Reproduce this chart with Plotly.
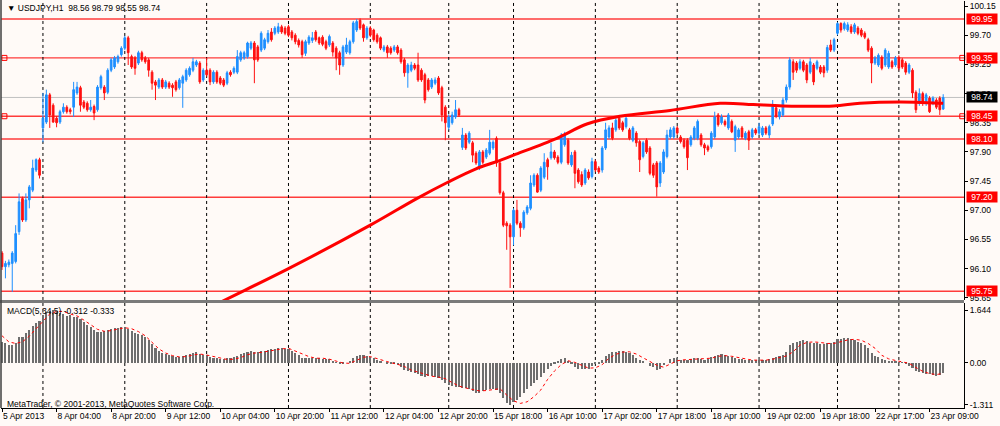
import plotly.graph_objects as go

# USDJPY H1 candles, 5 Apr 2013 .. 23 Apr 2013 (bar index 0..276)
open_ = [
    96.34, 96.13, 96.16, 96.18, 96.21, 96.67, 97.18, 96.85, 97.16, 97.31,
    97.62, 97.78, 98.27, 98.36, 98.78, 98.62, 98.42, 98.36, 98.52, 98.59,
    98.55, 98.59, 98.81, 98.89, 98.67, 98.65, 98.55, 98.60, 98.55, 98.89,
    98.90, 98.82, 99.16, 99.21, 99.29, 99.40, 99.50, 99.66, 99.37, 99.35,
    99.27, 99.43, 99.35, 99.32, 99.13, 98.98, 98.90, 99.01, 98.90, 98.96,
    98.93, 98.98, 98.89, 98.96, 99.01, 99.09, 99.16, 99.24, 99.27, 99.01,
    99.16, 99.16, 98.98, 99.13, 99.04, 99.01, 98.96, 99.13, 99.13, 99.13,
    99.32, 99.35, 99.37, 99.50, 99.58, 99.52, 99.47, 99.50, 99.60, 99.75,
    99.73, 99.75, 99.83, 99.81, 99.83, 99.75, 99.70, 99.62, 99.60, 99.42,
    99.58, 99.62, 99.75, 99.66, 99.67, 99.60, 99.55, 99.58, 99.50, 99.43,
    99.24, 99.44, 99.43, 99.60, 99.78, 99.93, 99.86, 99.66, 99.81, 99.78,
    99.70, 99.66, 99.47, 99.52, 99.50, 99.47, 99.52, 99.47, 99.32, 99.12,
    99.16, 99.24, 99.24, 99.16, 99.09, 99.01, 98.90, 98.96, 99.04, 98.89,
    98.59, 98.28, 98.35, 98.44, 98.55, 97.97, 98.16, 98.05, 98.04, 97.88,
    97.67, 97.90, 97.82, 97.88, 97.96, 98.11, 97.73, 97.27, 96.80, 96.77,
    96.59, 97.00, 96.80, 96.73, 96.96, 97.03, 97.39, 97.54, 97.31, 97.51,
    97.78, 97.81, 97.90, 97.82, 97.74, 98.01, 98.08, 97.70, 97.90, 97.62,
    97.55, 97.42, 97.59, 97.52, 97.75, 97.65, 97.62, 97.96, 98.13, 98.27,
    98.24, 98.42, 98.35, 98.29, 98.24, 98.08, 98.19, 98.06, 97.83, 98.08,
    97.96, 97.70, 97.73, 97.42, 97.59, 97.83, 98.13, 98.13, 98.27, 98.13,
    98.08, 98.08, 98.01, 98.11, 98.11, 98.16, 98.01, 97.98, 97.98, 98.13,
    98.47, 98.35, 98.37, 98.27, 98.37, 98.08, 98.13, 98.27, 98.11, 98.21,
    98.13, 98.24, 98.19, 98.16, 98.27, 98.16, 98.33, 98.58, 98.44, 98.47,
    98.70, 98.90, 99.29, 99.27, 99.19, 99.29, 99.24, 99.13, 99.24, 99.19,
    99.21, 99.21, 99.16, 99.55, 99.47, 99.73, 99.88, 99.80, 99.78, 99.83,
    99.75, 99.81, 99.78, 99.73, 99.63, 99.50, 99.27, 99.24, 99.36, 99.24,
    99.21, 99.29, 99.24, 99.36, 99.32, 99.27, 99.13, 99.16, 98.82, 98.65,
    98.80, 98.65, 98.73, 98.65, 98.70, 98.73, 98.56,
]
high = [
    96.37, 96.22, 96.24, 96.37, 96.77, 97.26, 97.21, 97.26, 97.39, 97.78,
    97.80, 97.81, 98.81, 98.86, 98.81, 98.65, 98.45, 98.55, 98.65, 98.62,
    98.58, 98.98, 98.98, 98.92, 98.70, 98.68, 98.70, 98.63, 98.93, 99.09,
    98.93, 99.19, 99.35, 99.38, 99.40, 99.53, 99.69, 99.69, 99.40, 99.38,
    99.46, 99.46, 99.38, 99.35, 99.16, 99.01, 99.04, 99.04, 99.01, 98.99,
    98.96, 99.01, 99.04, 99.09, 99.19, 99.22, 99.35, 99.32, 99.30, 99.19,
    99.35, 99.19, 99.16, 99.16, 99.07, 99.04, 99.15, 99.16, 99.22, 99.47,
    99.46, 99.46, 99.60, 99.61, 99.61, 99.55, 99.76, 99.66, 99.78, 99.81,
    99.84, 99.89, 99.86, 99.84, 99.86, 99.78, 99.73, 99.65, 99.63, 99.63,
    99.70, 99.75, 99.78, 99.68, 99.70, 99.63, 99.71, 99.61, 99.53, 99.46,
    99.55, 99.66, 99.63, 99.92, 99.95, 99.96, 99.88, 99.84, 99.84, 99.80,
    99.73, 99.68, 99.55, 99.55, 99.53, 99.55, 99.55, 99.50, 99.35, 99.27,
    99.29, 99.27, 99.43, 99.19, 99.12, 99.04, 99.04, 99.05, 99.07, 98.92,
    98.62, 98.48, 98.52, 98.70, 98.58, 98.27, 98.19, 98.22, 98.07, 97.91,
    97.93, 97.93, 97.96, 98.24, 98.08, 98.14, 97.76, 97.30, 96.83, 96.80,
    97.03, 97.16, 96.83, 97.00, 97.08, 97.54, 97.57, 97.57, 97.68, 97.88,
    97.81, 98.04, 97.93, 97.85, 98.19, 98.21, 98.11, 97.90, 97.93, 97.65,
    97.60, 97.65, 97.63, 97.81, 97.78, 97.68, 97.99, 98.35, 98.31, 98.35,
    98.42, 98.47, 98.38, 98.45, 98.27, 98.30, 98.22, 98.09, 98.07, 98.11,
    97.99, 97.73, 97.76, 97.76, 97.94, 98.24, 98.28, 98.30, 98.30, 98.16,
    98.11, 98.11, 98.16, 98.30, 98.40, 98.19, 98.04, 98.01, 98.22, 98.52,
    98.50, 98.48, 98.40, 98.50, 98.40, 98.32, 98.27, 98.30, 98.22, 98.24,
    98.27, 98.27, 98.35, 98.30, 98.30, 98.32, 98.70, 98.62, 98.56, 98.74,
    98.94, 99.36, 99.33, 99.30, 99.33, 99.32, 99.27, 99.35, 99.27, 99.32,
    99.24, 99.24, 99.55, 99.63, 99.66, 99.90, 99.90, 99.91, 99.90, 99.87,
    99.89, 99.84, 99.81, 99.76, 99.66, 99.53, 99.38, 99.42, 99.39, 99.50,
    99.46, 99.32, 99.38, 99.39, 99.35, 99.30, 99.27, 99.19, 98.85, 98.88,
    98.83, 98.81, 98.76, 98.76, 98.73, 98.76, 98.79,
]
low = [
    96.08, 95.95, 96.12, 95.74, 96.18, 96.62, 96.82, 96.82, 97.03, 97.28,
    97.59, 97.49, 98.05, 98.33, 98.27, 98.35, 98.28, 98.33, 98.49, 98.49,
    98.48, 98.44, 98.78, 98.52, 98.56, 98.52, 98.52, 98.39, 98.52, 98.86,
    98.70, 98.79, 99.13, 99.18, 99.26, 99.37, 99.47, 99.24, 99.18, 99.09,
    99.24, 99.29, 99.26, 99.06, 98.86, 98.70, 98.87, 98.87, 98.87, 98.87,
    98.75, 98.83, 98.86, 98.58, 98.98, 99.06, 99.13, 99.21, 98.95, 98.98,
    99.06, 98.93, 98.95, 98.95, 98.93, 98.90, 98.93, 99.06, 99.10, 99.10,
    99.29, 99.32, 99.34, 99.47, 98.96, 99.29, 99.44, 99.47, 99.57, 99.60,
    99.70, 99.72, 99.72, 99.70, 99.67, 99.62, 99.56, 99.51, 99.35, 99.38,
    99.55, 99.58, 99.60, 99.55, 99.53, 99.47, 99.52, 99.37, 99.16, 99.09,
    99.21, 99.41, 99.40, 99.57, 99.75, 99.78, 99.60, 99.63, 99.67, 99.60,
    99.57, 99.47, 99.44, 99.35, 99.40, 99.44, 99.40, 99.26, 99.06, 98.89,
    99.13, 99.16, 98.98, 98.98, 98.65, 98.83, 98.87, 98.93, 98.78, 98.37,
    98.08, 98.24, 98.32, 98.41, 98.44, 97.93, 97.93, 98.02, 97.74, 97.70,
    97.62, 97.71, 97.79, 97.85, 97.93, 97.67, 97.24, 96.74, 96.39, 95.80,
    96.46, 96.77, 96.59, 96.70, 96.93, 97.00, 97.36, 97.27, 97.28, 97.48,
    97.47, 97.78, 97.78, 97.71, 97.71, 97.98, 97.70, 97.67, 97.34, 97.41,
    97.36, 97.39, 97.47, 97.49, 97.59, 97.56, 97.58, 97.93, 98.10, 98.08,
    98.21, 98.24, 98.21, 98.26, 98.08, 98.05, 97.98, 97.59, 97.80, 97.87,
    97.54, 97.50, 97.21, 97.36, 97.56, 97.80, 98.10, 98.10, 98.16, 98.03,
    97.95, 97.62, 97.98, 98.08, 98.08, 97.98, 97.85, 97.90, 97.95, 98.10,
    98.29, 98.32, 98.29, 98.24, 98.19, 97.90, 98.10, 98.10, 98.08, 97.93,
    98.10, 98.16, 98.16, 98.13, 98.16, 98.11, 98.30, 98.42, 98.40, 98.44,
    98.66, 98.86, 99.01, 99.12, 99.16, 99.13, 98.96, 99.10, 98.93, 99.16,
    99.10, 99.05, 99.12, 99.44, 99.44, 99.70, 99.74, 99.77, 99.75, 99.72,
    99.72, 99.70, 99.67, 99.64, 99.44, 98.96, 99.24, 99.21, 99.16, 99.21,
    99.18, 99.18, 99.21, 99.16, 99.18, 99.09, 99.10, 98.73, 98.50, 98.61,
    98.61, 98.61, 98.50, 98.62, 98.56, 98.47, 98.55,
]
close = [
    96.13, 96.18, 96.20, 96.34, 96.64, 97.13, 96.85, 97.16, 97.36, 97.65,
    97.78, 97.54, 98.42, 98.78, 98.47, 98.36, 98.35, 98.52, 98.59, 98.52,
    98.52, 98.86, 98.90, 98.62, 98.59, 98.55, 98.59, 98.50, 98.90, 99.06,
    98.81, 99.16, 99.32, 99.35, 99.37, 99.50, 99.66, 99.43, 99.21, 99.19,
    99.43, 99.32, 99.29, 99.16, 98.96, 98.93, 99.01, 98.90, 98.98, 98.90,
    98.89, 98.86, 99.01, 99.06, 99.16, 99.19, 99.29, 99.29, 98.98, 99.16,
    99.09, 98.98, 99.13, 98.98, 98.96, 98.93, 99.12, 99.09, 99.19, 99.37,
    99.43, 99.43, 99.58, 99.58, 99.32, 99.32, 99.73, 99.63, 99.73, 99.63,
    99.81, 99.83, 99.75, 99.73, 99.70, 99.66, 99.60, 99.55, 99.40, 99.60,
    99.67, 99.66, 99.63, 99.58, 99.56, 99.50, 99.68, 99.44, 99.35, 99.24,
    99.52, 99.55, 99.60, 99.89, 99.91, 99.81, 99.66, 99.81, 99.70, 99.63,
    99.60, 99.50, 99.52, 99.43, 99.43, 99.52, 99.43, 99.29, 99.12, 99.24,
    99.24, 99.19, 99.01, 99.01, 98.70, 98.86, 99.01, 99.01, 98.81, 98.47,
    98.35, 98.44, 98.47, 98.55, 98.47, 98.16, 97.96, 98.19, 97.85, 97.73,
    97.90, 97.74, 97.93, 98.05, 98.05, 97.73, 97.27, 96.77, 96.76, 96.59,
    97.00, 96.80, 96.73, 96.97, 97.05, 97.42, 97.54, 97.28, 97.65, 97.74,
    97.67, 97.90, 97.81, 97.74, 98.16, 98.16, 97.73, 97.85, 97.57, 97.44,
    97.39, 97.62, 97.50, 97.75, 97.62, 97.59, 97.96, 98.24, 98.27, 98.11,
    98.39, 98.27, 98.24, 98.42, 98.11, 98.27, 98.04, 97.78, 98.04, 97.90,
    97.57, 97.54, 97.36, 97.73, 97.90, 98.16, 98.24, 98.27, 98.19, 98.06,
    97.98, 97.81, 98.13, 98.27, 98.37, 98.01, 97.96, 97.93, 98.19, 98.44,
    98.32, 98.44, 98.32, 98.47, 98.21, 98.29, 98.24, 98.13, 98.19, 98.08,
    98.24, 98.19, 98.29, 98.27, 98.19, 98.29, 98.60, 98.45, 98.52, 98.70,
    98.90, 99.32, 99.13, 99.16, 99.29, 99.16, 99.01, 99.29, 98.98, 99.29,
    99.13, 99.12, 99.51, 99.47, 99.63, 99.88, 99.78, 99.88, 99.86, 99.75,
    99.86, 99.73, 99.70, 99.67, 99.47, 99.27, 99.35, 99.39, 99.19, 99.47,
    99.42, 99.21, 99.35, 99.19, 99.21, 99.13, 99.24, 98.81, 98.55, 98.80,
    98.65, 98.78, 98.52, 98.73, 98.59, 98.55, 98.74,
]

# red moving average, sampled at bar positions
ma_x = [60, 64.4, 84, 108, 121.6, 131, 139, 145, 150, 162.7, 171.5, 181.2,
        195.9, 210.6, 220.3, 229.1, 243.8, 251.6, 263.3, 271.2, 276]
ma_y = [95.47, 95.59, 96.10, 96.77, 97.18, 97.44, 97.64, 97.75, 97.85, 98.11,
        98.33, 98.45, 98.54, 98.65, 98.63, 98.61, 98.61, 98.65, 98.67, 98.66,
        98.65]

# MACD(5,34,5) histogram, one value per bar
macd = [
    0.65, 0.60, 0.55, 0.55, 0.60, 0.81, 0.81, 0.94, 1.02, 1.14,
    1.25, 1.31, 1.49, 1.59, 1.62, 1.64, 1.62, 1.56, 1.52, 1.46,
    1.49, 1.43, 1.41, 1.35, 1.27, 1.17, 1.10, 1.02, 0.97, 0.97,
    0.99, 1.02, 1.05, 1.07, 1.09, 1.10, 1.12, 1.04, 0.99, 0.94,
    0.91, 0.86, 0.81, 0.71, 0.58, 0.45, 0.37, 0.31, 0.27, 0.24,
    0.21, 0.19, 0.19, 0.22, 0.24, 0.27, 0.31, 0.32, 0.27, 0.24,
    0.24, 0.19, 0.16, 0.14, 0.10, 0.10, 0.14, 0.14, 0.17, 0.22,
    0.27, 0.29, 0.33, 0.36, 0.32, 0.34, 0.36, 0.37, 0.40, 0.42,
    0.43, 0.45, 0.45, 0.44, 0.42, 0.36, 0.29, 0.24, 0.16, 0.16,
    0.16, 0.16, 0.16, 0.15, 0.12, 0.11, 0.10, 0.06, 0.01, -0.04,
    -0.04, 0.00, 0.05, 0.14, 0.21, 0.24, 0.23, 0.21, 0.19, 0.14,
    0.08, 0.04, 0.00, -0.02, -0.04, -0.04, -0.07, -0.15, -0.23, -0.26,
    -0.28, -0.31, -0.35, -0.42, -0.46, -0.42, -0.42, -0.44, -0.47, -0.54,
    -0.62, -0.70, -0.73, -0.75, -0.75, -0.78, -0.80, -0.83, -0.88, -0.94,
    -0.94, -0.88, -0.85, -0.83, -0.83, -0.85, -0.96, -1.11, -1.27, -1.32,
    -1.22, -1.16, -1.06, -0.96, -0.83, -0.73, -0.62, -0.54, -0.46, -0.31,
    -0.21, -0.10, -0.04, 0.04, 0.10, 0.14, 0.04, -0.04, -0.12, -0.20,
    -0.21, -0.20, -0.19, -0.10, -0.05, -0.02, 0.08, 0.21, 0.27, 0.32,
    0.34, 0.36, 0.36, 0.33, 0.29, 0.23, 0.15, 0.09, 0.06, 0.00,
    -0.09, -0.15, -0.23, -0.19, -0.08, 0.00, 0.11, 0.14, 0.14, 0.08,
    0.08, 0.08, 0.11, 0.14, 0.14, 0.11, 0.08, 0.11, 0.19, 0.22,
    0.25, 0.26, 0.23, 0.21, 0.19, 0.16, 0.12, 0.10, 0.08, 0.08,
    0.08, 0.08, 0.08, 0.08, 0.09, 0.12, 0.16, 0.19, 0.21, 0.24,
    0.33, 0.54, 0.62, 0.65, 0.68, 0.71, 0.69, 0.60, 0.60, 0.62,
    0.58, 0.57, 0.60, 0.62, 0.64, 0.73, 0.74, 0.76, 0.76, 0.73,
    0.70, 0.64, 0.61, 0.56, 0.45, 0.31, 0.22, 0.17, 0.12, 0.09,
    0.06, 0.04, 0.04, 0.02, -0.01, -0.03, -0.09, -0.17, -0.27, -0.30,
    -0.33, -0.34, -0.36, -0.38, -0.40, -0.38, -0.31,
]
# signal line, read every second bar
signal_x = list(range(0, 277, 2))
signal = [
    0.84, 0.65, 0.60, 0.65, 0.83, 1.06, 1.31, 1.52, 1.60, 1.60,
    1.52, 1.46, 1.33, 1.19, 1.04, 0.98, 1.00, 1.05, 1.09, 1.06,
    0.97, 0.84, 0.65, 0.43, 0.30, 0.22, 0.18, 0.19, 0.24, 0.27,
    0.24, 0.19, 0.14, 0.10, 0.11, 0.16, 0.25, 0.30, 0.32, 0.36,
    0.40, 0.43, 0.45, 0.37, 0.29, 0.19, 0.14, 0.14, 0.11, 0.06,
    -0.01, -0.02, 0.07, 0.17, 0.19, 0.12, 0.06, 0.00, -0.05, -0.12,
    -0.23, -0.30, -0.36, -0.42, -0.45, -0.50, -0.62, -0.73, -0.79, -0.84,
    -0.88, -0.87, -0.83, -0.81, -1.01, -1.19, -1.27, -1.22, -1.06, -0.85,
    -0.52, -0.26, -0.06, 0.06, 0.01, -0.09, -0.17, -0.16, -0.06, 0.14,
    0.26, 0.33, 0.34, 0.27, 0.16, 0.03, -0.08, -0.14, -0.04, 0.06,
    0.09, 0.10, 0.11, 0.11, 0.14, 0.20, 0.22, 0.20, 0.16, 0.11,
    0.08, 0.08, 0.08, 0.11, 0.16, 0.21, 0.34, 0.55, 0.63, 0.65,
    0.63, 0.60, 0.60, 0.65, 0.71, 0.73, 0.70, 0.60, 0.45, 0.23,
    0.12, 0.07, 0.03, -0.02, -0.15, -0.27, -0.34, -0.37, -0.333,
]

tick_bars = list(range(0, 273, 16))
tick_labels = ["5 Apr 2013", "8 Apr 04:00", "8 Apr 20:00", "9 Apr 12:00",
               "10 Apr 04:00", "10 Apr 20:00", "11 Apr 12:00", "12 Apr 04:00",
               "12 Apr 20:00", "15 Apr 18:00", "16 Apr 10:00", "17 Apr 02:00",
               "17 Apr 18:00", "18 Apr 10:00", "19 Apr 02:00", "19 Apr 18:00",
               "22 Apr 17:00", "23 Apr 09:00"]
day_bars = [12, 36, 60, 84, 108, 131, 150, 174, 198, 222, 245, 263]
levels = [99.95, 99.35, 98.45, 98.10, 97.20, 95.75]
marked_levels = [99.35, 98.45]
bid = 98.74

FONT = "Liberation Sans, Arial, sans-serif"
BG = "#fffaf7"
bars = list(range(len(close)))

fig = go.Figure()

fig.add_trace(go.Candlestick(
    x=bars, open=open_, high=high, low=low, close=close,
    increasing=dict(line=dict(color="#1e8fff", width=1), fillcolor="#1e8fff"),
    decreasing=dict(line=dict(color="#ff1010", width=1), fillcolor="#ff1010"),
    whiskerwidth=0, hoverinfo="skip",
))
fig.add_trace(go.Scatter(x=ma_x, y=ma_y, mode="lines", line_shape="spline",
                         line=dict(color="#ff0000", width=3), hoverinfo="skip"))
for lv in marked_levels:
    fig.add_trace(go.Scatter(x=[0.7, 281.6], y=[lv, lv], mode="markers",
                             marker=dict(symbol="square-open", size=5,
                                         color="#ff0000", line=dict(width=1)),
                             cliponaxis=False, hoverinfo="skip"))

fig.add_trace(go.Bar(x=bars, y=macd, marker_color="#6e6e6e", width=0.62,
                     marker_line_width=0, xaxis="x", yaxis="y2", hoverinfo="skip"))
fig.add_trace(go.Scatter(x=signal_x, y=signal, mode="lines",
                         line=dict(color="#ff0000", width=1, dash="dot"),
                         xaxis="x", yaxis="y2", hoverinfo="skip"))

shapes = []
for lv in levels:
    shapes.append(dict(type="line", xref="paper", yref="y", x0=0.001, x1=0.964,
                       y0=lv, y1=lv, line=dict(color="#ff3b3b", width=1.4),
                       layer="below"))
shapes.append(dict(type="line", xref="paper", yref="y", x0=0.001, x1=0.964,
                   y0=bid, y1=bid, line=dict(color="#c0c0c0", width=1), layer="below"))
for d in day_bars:
    shapes.append(dict(type="line", xref="x", yref="paper", x0=d, x1=d,
                       y0=0.0423, y1=1, line=dict(color="#000000", width=1, dash="dot"),
                       layer="below"))
# panel separator and left border
shapes.append(dict(type="rect", xref="paper", yref="paper", x0=0.0, x1=0.964,
                   y0=0.2887, y1=0.2958, fillcolor="#7a7a7a", line=dict(width=0)))
shapes.append(dict(type="line", xref="paper", yref="paper", x0=0.001, x1=0.001,
                   y0=0.0423, y1=1, line=dict(color="#404040", width=1.5)))

annotations = [
    dict(text="▼ USDJPY,H1  98.56 98.79 98.55 98.74", xref="paper", yref="paper",
         x=0.005, y=0.982, xanchor="left", yanchor="middle", showarrow=False,
         font=dict(family=FONT, size=8.5, color="black")),
    dict(text="MACD(5,34,5) -0.312 -0.333", xref="paper", yref="paper",
         x=0.005, y=0.2688, xanchor="left", yanchor="middle", showarrow=False,
         font=dict(family=FONT, size=8.5, color="black")),
    dict(text="MetaTrader, © 2001-2013, MetaQuotes Software Corp.", xref="paper",
         yref="paper", x=0.005, y=0.0505, xanchor="left", yanchor="middle",
         showarrow=False, font=dict(family=FONT, size=8.5, color="black")),
]
for lv in levels:
    annotations.append(dict(text=f"{lv:.2f}", xref="paper", yref="y", x=0.966, y=lv,
                            xanchor="left", yanchor="middle", showarrow=False,
                            bgcolor="#ff0000", width=30, height=10, borderpad=0,
                            font=dict(family=FONT, size=8.5, color="white")))
annotations.append(dict(text=f"{bid:.2f}", xref="paper", yref="y", x=0.966, y=bid,
                        xanchor="left", yanchor="middle", showarrow=False,
                        bgcolor="#000000", width=30, height=10, borderpad=0,
                        font=dict(family=FONT, size=8.5, color="white")))

price_ticks = [95.65 + 0.45 * k for k in range(11)]

fig.update_layout(
    width=1000, height=426, margin=dict(l=0, r=0, t=0, b=0, autoexpand=False),
    paper_bgcolor=BG, plot_bgcolor=BG, showlegend=False, bargap=0,
    font=dict(family=FONT, size=8.5, color="black"),
    xaxis=dict(domain=[0.001, 0.964], range=[-0.3, 282.1], anchor="y2",
               automargin=False,
               rangeslider=dict(visible=False), showgrid=False, zeroline=False,
               showline=True, linecolor="black", linewidth=1,
               ticks="outside", ticklen=3, tickcolor="black", tickangle=0,
               tickvals=tick_bars, ticktext=tick_labels,
               ticklabelposition="outside right",
               tickfont=dict(family=FONT, size=8.5, color="black")),
    yaxis=dict(domain=[0.2958, 0.9977], range=[95.616, 100.228], side="right",
               anchor="x", automargin=False, showgrid=False, zeroline=False,
               showline=True,
               linecolor="black", linewidth=1, ticks="outside", ticklen=3,
               tickcolor="black", tickvals=price_ticks, tickformat=".2f",
               tickfont=dict(family=FONT, size=8.5, color="black")),
    yaxis2=dict(domain=[0.0423, 0.2887], range=[-1.413, 1.862], side="right",
                anchor="x", automargin=False, showgrid=False, zeroline=False,
                showline=True,
                linecolor="black", linewidth=1, ticks="outside", ticklen=3,
                tickcolor="black", tickvals=[1.644, 0.0, -1.311],
                ticktext=["1.644", "0.00", "-1.311"],
                tickfont=dict(family=FONT, size=8.5, color="black")),
    shapes=shapes, annotations=annotations,
)

# the page's default body margin would push the chart 8px off the window
fig.write_html("out.html", config={"displayModeBar": False},
               post_script="document.body.style.margin='0';"
                           "document.body.style.overflow='hidden';")
